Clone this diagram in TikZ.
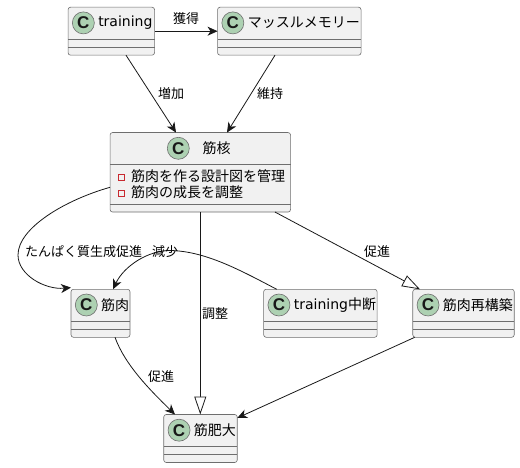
\documentclass[tikz,border=0pt]{standalone}
\usepackage{fontspec}
\setmainfont{DejaVu Sans}
\newfontfamily\cjk{Noto Sans CJK JP}
\newfontfamily\spotfont{Liberation Sans}
\usetikzlibrary{arrows.meta, positioning, calc}
\definecolor{umlink}{HTML}{181818}
\definecolor{umlline}{HTML}{6E6E6E}
\definecolor{umlfill}{HTML}{F1F1F1}
\definecolor{umlspot}{HTML}{ADD1B2}
\definecolor{umlred}{HTML}{C82930}
\tikzset{
  classbox/.style={draw=umlline, fill=umlfill, line width=0.6pt, rounded corners=2.5pt, inner sep=0pt, outer sep=0pt},
  spot/.style={circle, draw=umlline, fill=umlspot, line width=0.6pt, inner sep=0pt, minimum size=22pt, text=umlink, font=\fontsize{17}{18}\selectfont\spotfont\bfseries},
  classname/.style={inner sep=0pt, text=black, font=\fontsize{14}{16}\selectfont},
  divider/.style={draw=umlline, line width=0.6pt},
  memberdot/.style={draw=umlred, line width=0.7pt, fill=none, minimum size=6pt, inner sep=0pt},
  edgelabel/.style={inner sep=0pt, font=\fontsize{13}{15}\selectfont\cjk},
  assoc/.style={-{Stealth[length=10pt, width=9pt, inset=3pt]}, color=umlink, line width=0.8pt},
  extend/.style={-{Triangle[open, length=18pt, width=12pt, fill=white]}, color=umlink, line width=0.8pt}
}
\newcommand{\classnode}[5]{%
  \node[classbox, minimum width=#4pt, minimum height=48pt] (#1) at (#2,#3) {};
  \node[spot] (#1spot) at ([xshift=15.3pt, yshift=-15.7pt]#1.north west) {C};
  \node[classname, anchor=west] (#1name) at ([xshift=30pt, yshift=-15.7pt]#1.north west) {#5};
  \draw[divider] ([yshift=-32pt]#1.north west) -- ([yshift=-32pt]#1.north east);
  \draw[divider] ([yshift=-40pt]#1.north west) -- ([yshift=-40pt]#1.north east);
}
\begin{document}
\begin{tikzpicture}[x=1pt, y=-1pt]
    \useasboundingbox (0,0) rectangle (520,468);
    \classnode{training}{111.3}{31.2}{86.5}{training}
    \classnode{memory}{289.3}{31.2}{143.5}{\cjk マッスルメモリー}
    \classnode{muscle}{100.5}{313.3}{59}{\cjk 筋肉}
    \classnode{stop}{320.4}{313.3}{113.5}{training{\cjk 中断}}
    \classnode{rebuild}{463.5}{313.3}{101.5}{\cjk 筋肉再構築}
    \classnode{hyper}{200.5}{438.5}{73.5}{\cjk 筋肥大}

    \node[classbox, minimum width=180.5pt, minimum height=79.5pt] (core) at (200.3,172.3) {};
    \node[spot] (corespot) at (178.3,148.3) {C};
    \node[classname, font=\fontsize{14}{16}\selectfont\cjk] (corename) at (216.7,148.3) {筋核};
    \draw[divider] ([yshift=-32pt]core.north west) -- ([yshift=-32pt]core.north east);
    \draw[divider] ([yshift=-72pt]core.north west) -- ([yshift=-72pt]core.north east);
    \node[memberdot] (dota) at (121,177) {};
    \node[memberdot] (dotb) at (121,193.5) {};
    \node[classname, anchor=west, font=\fontsize{14}{16}\selectfont\cjk] (membera) at (131,176) {筋肉を作る設計図を管理};
    \node[classname, anchor=west, font=\fontsize{14}{16}\selectfont\cjk] (memberb) at (131,192.5) {筋肉の成長を調整};

    \draw[assoc] (training.east) -- (memory.west);
    \draw[assoc] ([xshift=14.7pt]training.south) -- ([xshift=-24.3pt]core.north);
    \draw[assoc] ([xshift=-14.3pt]memory.south) -- ([xshift=26.7pt]core.north);
    \draw[assoc] ([yshift=-15pt]core.west) .. controls (65,200) and (18,228) .. (18,255)
        .. controls (18,275) and (45,290) .. ([yshift=1.7pt]muscle.west |- muscle.north) ;
    \draw[extend] ([xshift=74.7pt]core.south) -- ([xshift=-43.5pt]rebuild.north);
    \draw[extend] (core.south) -- (core.south |- hyper.north);
    \draw[assoc] ([xshift=-43.7pt]stop.north) .. controls (240,270) and (205,251) .. (170,250.5)
        .. controls (148,250.5) and (124,266) .. ([xshift=12.5pt]muscle.north);
    \draw[assoc] ([xshift=14.5pt]muscle.south) .. controls (125,365) and (150,390) .. ([xshift=-25.5pt]hyper.north);
    \draw[assoc] ([xshift=2pt]rebuild.south west) -- ([yshift=-3.5pt]hyper.north east);

    \node[edgelabel] (gain) at (186,18.5) {獲得};
    \node[edgelabel] (grow) at (171,93.5) {増加};
    \node[edgelabel] (keep) at (270,93.5) {維持};
    \node[edgelabel, anchor=west] (protein) at (25,251.5) {たんぱく質生成促進};
    \node[edgelabel, anchor=west] (less) at (152,251.5) {減少};
    \node[edgelabel] (adjust) at (215,313.5) {調整};
    \node[edgelabel] (promotea) at (161,376.5) {促進};
    \node[edgelabel] (promoteb) at (377,251.5) {促進};
\end{tikzpicture}
\end{document}
